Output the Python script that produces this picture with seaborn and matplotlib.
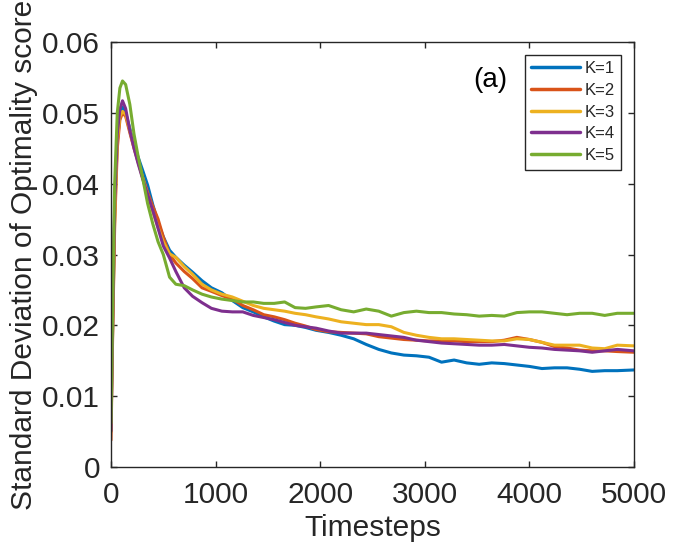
import numpy as np
import pandas as pd
import matplotlib
matplotlib.use("Agg")
import matplotlib.pyplot as plt
import seaborn as sns
from matplotlib.ticker import FuncFormatter

timesteps = [0, 15, 35, 60, 85, 110, 140, 180, 220, 260, 300, 350, 400, 450, 500, 560,
             620, 700, 780, 870, 960, 1060, 1160, 1260, 1360, 1460, 1560, 1660, 1760,
             1860, 1960, 2080, 2200, 2320, 2440, 2560, 2680, 2800, 2920, 3040, 3160,
             3280, 3400, 3520, 3640, 3760, 3880, 4000, 4120, 4240, 4360, 4480, 4600,
             4720, 4840, 5000]

k1 = [0.0050, 0.019, 0.036, 0.046, 0.0495, 0.0508, 0.0500, 0.0478, 0.0455, 0.0437, 0.0420,
      0.0398, 0.0370, 0.0345, 0.0325, 0.0306, 0.0296, 0.0285, 0.0275, 0.0263, 0.0253,
      0.0246, 0.0235, 0.0225, 0.0219, 0.0212, 0.0206, 0.0201, 0.0200, 0.0197, 0.0193,
      0.0190, 0.0186, 0.0181, 0.0173, 0.0166, 0.0161, 0.0158, 0.0157, 0.0155, 0.0148,
      0.0151, 0.0147, 0.0145, 0.0147, 0.0146, 0.0144, 0.0142, 0.0139, 0.0140, 0.0140,
      0.0138, 0.0135, 0.0136, 0.0136, 0.0137]

k2 = [0.0038, 0.018, 0.034, 0.045, 0.0490, 0.0500, 0.0495, 0.0472, 0.0450, 0.0430, 0.0410,
      0.0388, 0.0368, 0.0350, 0.0325, 0.0300, 0.0288, 0.0276, 0.0266, 0.0253, 0.0248,
      0.0242, 0.0237, 0.0228, 0.0222, 0.0215, 0.0212, 0.0208, 0.0203, 0.0199, 0.0194,
      0.0191, 0.0190, 0.0189, 0.0188, 0.0184, 0.0182, 0.0180, 0.0179, 0.0178, 0.0178,
      0.0178, 0.0177, 0.0177, 0.0177, 0.0179, 0.0183, 0.0180, 0.0176, 0.0170, 0.0168,
      0.0165, 0.0164, 0.0164, 0.0163, 0.0162]

k3 = [0.0050, 0.019, 0.035, 0.046, 0.0495, 0.0502, 0.0498, 0.0475, 0.0452, 0.0432, 0.0410,
      0.0385, 0.0360, 0.0338, 0.0318, 0.0301, 0.0296, 0.0283, 0.0272, 0.0258, 0.0250,
      0.0244, 0.0240, 0.0234, 0.0228, 0.0224, 0.0222, 0.0220, 0.0217, 0.0215, 0.0212,
      0.0209, 0.0205, 0.0203, 0.0201, 0.0201, 0.0198, 0.0190, 0.0186, 0.0183, 0.0181,
      0.0181, 0.0180, 0.0179, 0.0178, 0.0178, 0.0181, 0.0180, 0.0176, 0.0172, 0.0172,
      0.0172, 0.0168, 0.0167, 0.0172, 0.0171]

k4 = [0.0051, 0.020, 0.037, 0.047, 0.0505, 0.0517, 0.0506, 0.0475, 0.0450, 0.0428, 0.0408,
      0.0385, 0.0362, 0.0337, 0.0312, 0.0295, 0.0276, 0.0253, 0.0241, 0.0232, 0.0224,
      0.0220, 0.0219, 0.0219, 0.0214, 0.0211, 0.0208, 0.0204, 0.0200, 0.0198, 0.0196,
      0.0192, 0.0189, 0.0189, 0.0189, 0.0187, 0.0185, 0.0183, 0.0179, 0.0177, 0.0175,
      0.0174, 0.0173, 0.0172, 0.0172, 0.0173, 0.0171, 0.0169, 0.0168, 0.0166, 0.0165,
      0.0164, 0.0162, 0.0164, 0.0166, 0.0164]

k5 = [0.0062, 0.022, 0.040, 0.050, 0.0535, 0.0545, 0.0540, 0.0512, 0.0470, 0.0438, 0.0410,
      0.0372, 0.0343, 0.0318, 0.0300, 0.0268, 0.0258, 0.0256, 0.0250, 0.0244, 0.0240,
      0.0237, 0.0235, 0.0233, 0.0233, 0.0231, 0.0231, 0.0233, 0.0225, 0.0224, 0.0226,
      0.0228, 0.0222, 0.0219, 0.0223, 0.0220, 0.0213, 0.0218, 0.0220, 0.0218, 0.0218,
      0.0216, 0.0215, 0.0213, 0.0214, 0.0213, 0.0218, 0.0219, 0.0219, 0.0217, 0.0215,
      0.0217, 0.0217, 0.0214, 0.0217, 0.0217]

labels = ["K=1", "K=2", "K=3", "K=4", "K=5"]
colors = ["#0072BD", "#D95319", "#EDB120", "#7E2F8E", "#77AC30"]
x_ticks = [0, 1000, 2000, 3000, 4000, 5000]
y_ticks = [0, 0.01, 0.02, 0.03, 0.04, 0.05, 0.06]

series = [k1, k2, k3, k4, k5]
df = pd.concat([pd.DataFrame({"Timesteps": timesteps, "value": s, "K": lab})
                for s, lab in zip(series, labels)], ignore_index=True)

sns.set_theme(style="white")
plt.rcParams['font.family'] = ['Liberation Sans', 'DejaVu Sans']
plt.rcParams['text.color'] = '#262626'
plt.rcParams['axes.labelcolor'] = '#262626'

fig = plt.figure(figsize=(7.0, 5.55), dpi=100)
ax = fig.add_axes([111/700, 88/555, 523/700, 425/555])

sns.lineplot(data=df, x="Timesteps", y="value", hue="K", hue_order=labels,
             palette=colors, linewidth=2.2, ax=ax, estimator=None, sort=False)

ax.set_xlim(0, 5000)
ax.set_ylim(0, 0.06)
ax.set_xticks(x_ticks)
ax.set_yticks(y_ticks)
ax.yaxis.set_major_formatter(FuncFormatter(lambda v, p: "0" if abs(v) < 1e-12 else f"{v:.2f}"))
ax.tick_params(direction="in", length=4.5, width=1.0, colors="#262626",
               labelsize=21.5, top=True, right=True, bottom=True, left=True)
ax.tick_params(axis="x", pad=10)
ax.tick_params(axis="y", pad=8)
for sp in ax.spines.values():
    sp.set_color("#262626")
    sp.set_linewidth(1.0)

ax.set_xlabel("Timesteps", fontsize=21.5, labelpad=4)
ax.set_ylabel("Standard Deviation of Optimality score", fontsize=21.5, labelpad=3)

ax.text(3460, 0.0546, "(a)", fontsize=20, ha="left", va="center", color="black")

leg = ax.legend(loc="upper right", fontsize=12, frameon=True, fancybox=False,
                edgecolor="#262626", framealpha=1.0, borderaxespad=0.75,
                handlelength=2.9, handletextpad=0.3, labelspacing=0.4,
                borderpad=0.4, title=None)
leg.get_frame().set_linewidth(1.0)
for line in leg.get_lines():
    line.set_linewidth(2.5)

fig.savefig("out.png", dpi=100)
